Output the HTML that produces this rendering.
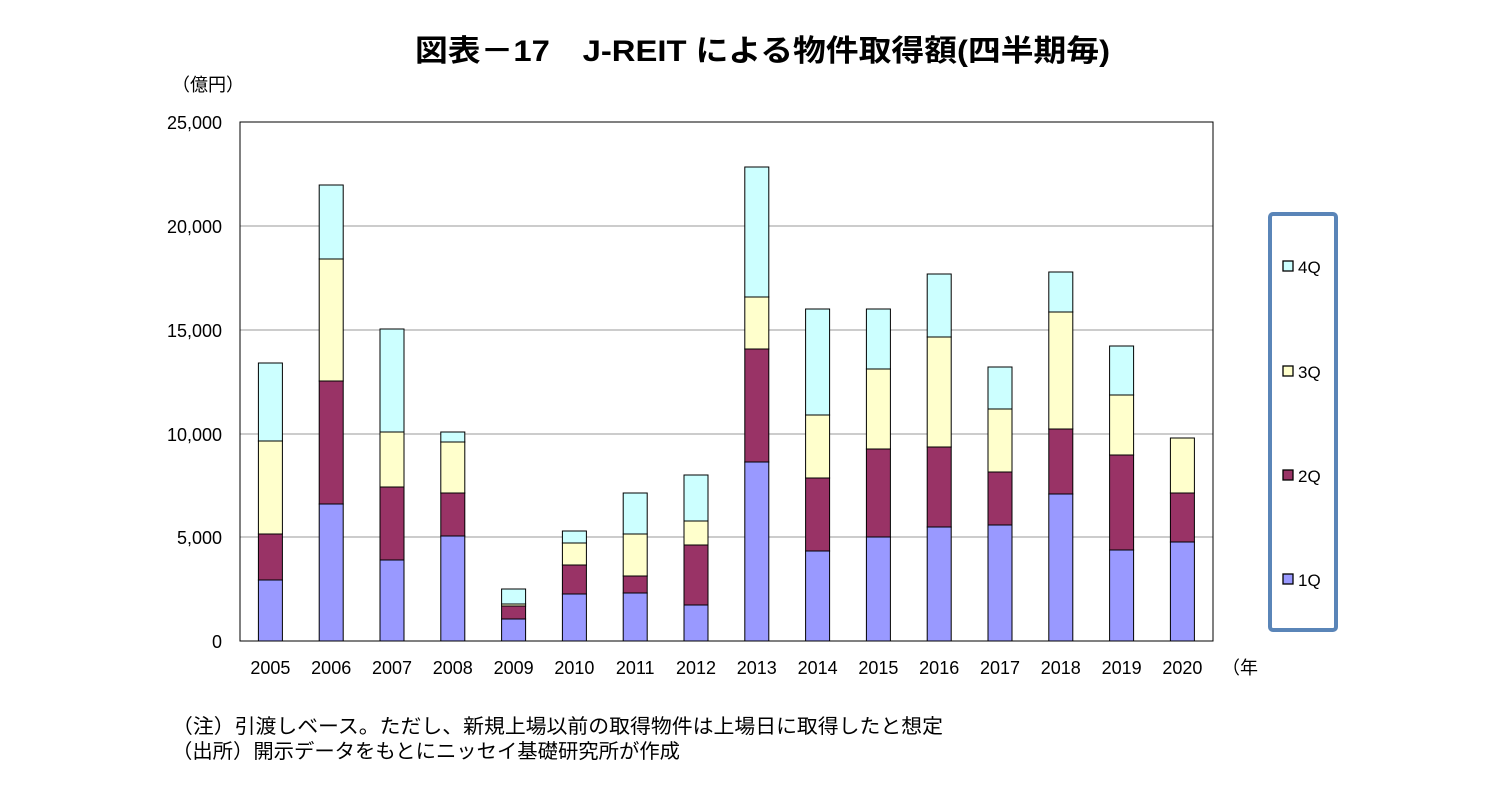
<!DOCTYPE html>
<html><head><meta charset="utf-8"><style>
body{margin:0;background:#fff;}
svg text{font-family:"Liberation Sans","Noto Sans CJK JP",sans-serif;fill:#000;}
</style></head><body>
<svg width="1503" height="793" xmlns="http://www.w3.org/2000/svg">
<text x="415" y="61" font-size="30" font-weight="bold" textLength="695" lengthAdjust="spacingAndGlyphs">図表－17　J-REIT による物件取得額(四半期毎)</text>
<text x="172" y="91" font-size="18">（億円）</text>
<g stroke="#000" stroke-width="1">
<line x1="240" y1="226" x2="1213" y2="226" stroke="#999"/>
<line x1="240" y1="330" x2="1213" y2="330" stroke="#999"/>
<line x1="240" y1="434" x2="1213" y2="434" stroke="#999"/>
<line x1="240" y1="537" x2="1213" y2="537" stroke="#999"/>
<rect x="240" y="122" width="973" height="519" fill="none"/>
</g>
<g font-size="18" text-anchor="end">
<text x="222" y="129">25,000</text><text x="222" y="233">20,000</text><text x="222" y="337">15,000</text><text x="222" y="441">10,000</text><text x="222" y="544">5,000</text><text x="222" y="648">0</text>
</g>
<g stroke="#000" stroke-width="1">
<rect x="258.4" y="580" width="24" height="61" fill="#9999FF"/><rect x="258.4" y="534" width="24" height="46" fill="#993366"/><rect x="258.4" y="441" width="24" height="93" fill="#FFFFCC"/><rect x="258.4" y="363" width="24" height="78" fill="#CCFFFF"/>
<rect x="319.2" y="504" width="24" height="137" fill="#9999FF"/><rect x="319.2" y="381" width="24" height="123" fill="#993366"/><rect x="319.2" y="259" width="24" height="122" fill="#FFFFCC"/><rect x="319.2" y="185" width="24" height="74" fill="#CCFFFF"/>
<rect x="380" y="560" width="24" height="81" fill="#9999FF"/><rect x="380" y="487" width="24" height="73" fill="#993366"/><rect x="380" y="432" width="24" height="55" fill="#FFFFCC"/><rect x="380" y="329" width="24" height="103" fill="#CCFFFF"/>
<rect x="440.8" y="536" width="24" height="105" fill="#9999FF"/><rect x="440.8" y="493" width="24" height="43" fill="#993366"/><rect x="440.8" y="442" width="24" height="51" fill="#FFFFCC"/><rect x="440.8" y="432" width="24" height="10" fill="#CCFFFF"/>
<rect x="501.6" y="619" width="24" height="22" fill="#9999FF"/><rect x="501.6" y="606" width="24" height="13" fill="#993366"/><rect x="501.6" y="604" width="24" height="2" fill="#FFFFCC"/><rect x="501.6" y="589" width="24" height="15" fill="#CCFFFF"/>
<rect x="562.4" y="594" width="24" height="47" fill="#9999FF"/><rect x="562.4" y="565" width="24" height="29" fill="#993366"/><rect x="562.4" y="543" width="24" height="22" fill="#FFFFCC"/><rect x="562.4" y="531" width="24" height="12" fill="#CCFFFF"/>
<rect x="623.2" y="593" width="24" height="48" fill="#9999FF"/><rect x="623.2" y="576" width="24" height="17" fill="#993366"/><rect x="623.2" y="534" width="24" height="42" fill="#FFFFCC"/><rect x="623.2" y="493" width="24" height="41" fill="#CCFFFF"/>
<rect x="684" y="605" width="24" height="36" fill="#9999FF"/><rect x="684" y="545" width="24" height="60" fill="#993366"/><rect x="684" y="521" width="24" height="24" fill="#FFFFCC"/><rect x="684" y="475" width="24" height="46" fill="#CCFFFF"/>
<rect x="744.8" y="462" width="24" height="179" fill="#9999FF"/><rect x="744.8" y="349" width="24" height="113" fill="#993366"/><rect x="744.8" y="297" width="24" height="52" fill="#FFFFCC"/><rect x="744.8" y="167" width="24" height="130" fill="#CCFFFF"/>
<rect x="805.6" y="551" width="24" height="90" fill="#9999FF"/><rect x="805.6" y="478" width="24" height="73" fill="#993366"/><rect x="805.6" y="415" width="24" height="63" fill="#FFFFCC"/><rect x="805.6" y="309" width="24" height="106" fill="#CCFFFF"/>
<rect x="866.4" y="537" width="24" height="104" fill="#9999FF"/><rect x="866.4" y="449" width="24" height="88" fill="#993366"/><rect x="866.4" y="369" width="24" height="80" fill="#FFFFCC"/><rect x="866.4" y="309" width="24" height="60" fill="#CCFFFF"/>
<rect x="927.2" y="527" width="24" height="114" fill="#9999FF"/><rect x="927.2" y="447" width="24" height="80" fill="#993366"/><rect x="927.2" y="337" width="24" height="110" fill="#FFFFCC"/><rect x="927.2" y="274" width="24" height="63" fill="#CCFFFF"/>
<rect x="988" y="525" width="24" height="116" fill="#9999FF"/><rect x="988" y="472" width="24" height="53" fill="#993366"/><rect x="988" y="409" width="24" height="63" fill="#FFFFCC"/><rect x="988" y="367" width="24" height="42" fill="#CCFFFF"/>
<rect x="1048.8" y="494" width="24" height="147" fill="#9999FF"/><rect x="1048.8" y="429" width="24" height="65" fill="#993366"/><rect x="1048.8" y="312" width="24" height="117" fill="#FFFFCC"/><rect x="1048.8" y="272" width="24" height="40" fill="#CCFFFF"/>
<rect x="1109.6" y="550" width="24" height="91" fill="#9999FF"/><rect x="1109.6" y="455" width="24" height="95" fill="#993366"/><rect x="1109.6" y="395" width="24" height="60" fill="#FFFFCC"/><rect x="1109.6" y="346" width="24" height="49" fill="#CCFFFF"/>
<rect x="1170.4" y="542" width="24" height="99" fill="#9999FF"/><rect x="1170.4" y="493" width="24" height="49" fill="#993366"/><rect x="1170.4" y="438" width="24" height="55" fill="#FFFFCC"/>
</g>
<g font-size="18" text-anchor="middle">
<text x="270.4" y="674">2005</text><text x="331.2" y="674">2006</text><text x="392" y="674">2007</text><text x="452.8" y="674">2008</text><text x="513.6" y="674">2009</text><text x="574.4" y="674">2010</text><text x="635.2" y="674">2011</text><text x="696" y="674">2012</text><text x="756.8" y="674">2013</text><text x="817.6" y="674">2014</text><text x="878.4" y="674">2015</text><text x="939.2" y="674">2016</text><text x="1000" y="674">2017</text><text x="1060.8" y="674">2018</text><text x="1121.6" y="674">2019</text><text x="1182.4" y="674">2020</text>
</g>
<text x="1222" y="674" font-size="18">（年</text>
<rect x="1270" y="214" width="66" height="416" rx="3" fill="none" stroke="#5A85B8" stroke-width="4"/>
<g stroke="#000" stroke-width="1.3">
<rect x="1283" y="261" width="10" height="10" fill="#CCFFFF"/><rect x="1283" y="366" width="10" height="10" fill="#FFFFCC"/><rect x="1283" y="470" width="10" height="10" fill="#993366"/><rect x="1283" y="574" width="10" height="10" fill="#9999FF"/>
</g>
<g font-size="17">
<text x="1298" y="273">4Q</text><text x="1298" y="378">3Q</text><text x="1298" y="482">2Q</text><text x="1298" y="586">1Q</text>
</g>
<text x="172" y="733" font-size="20" textLength="771" lengthAdjust="spacingAndGlyphs">（注）引渡しベース。ただし、新規上場以前の取得物件は上場日に取得したと想定</text>
<text x="172" y="758" font-size="20" textLength="508" lengthAdjust="spacingAndGlyphs">（出所）開示データをもとにニッセイ基礎研究所が作成</text>
</svg>
</body></html>
